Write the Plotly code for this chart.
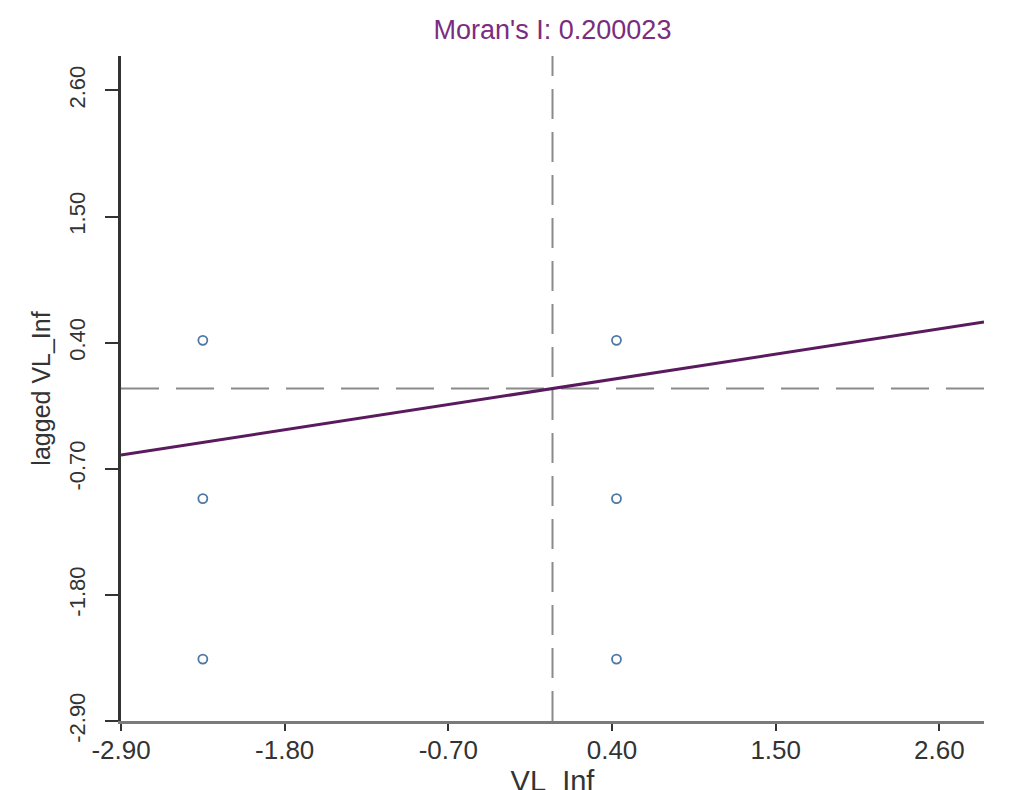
import plotly.graph_objects as go

# Data
x_values = [-2.35, -2.35, -2.35, 0.43, 0.43, 0.43]
lagged_values = [0.42, -0.96, -2.36, 0.42, -0.96, -2.36]
morans_i = 0.200023
x_mean = 0.0
y_mean = 0.0
axis_min, axis_max = -2.9, 2.9
tick_vals = [-2.90, -1.80, -0.70, 0.40, 1.50, 2.60]
tick_text = ["-2.90", "-1.80", "-0.70", "0.40", "1.50", "2.60"]

FONT = "Liberation Sans, Arial, sans-serif"

fig = go.Figure()

# mean reference lines
fig.add_trace(go.Scatter(x=[x_mean, x_mean], y=[axis_min, axis_max], mode="lines",
                         line=dict(color="#8a8a8a", width=2, dash="30px,13px"),
                         hoverinfo="skip", showlegend=False))
fig.add_trace(go.Scatter(x=[axis_min, axis_max], y=[y_mean, y_mean], mode="lines",
                         line=dict(color="#8a8a8a", width=2, dash="38px,17px"),
                         hoverinfo="skip", showlegend=False))

# points
fig.add_trace(go.Scatter(x=x_values, y=lagged_values, mode="markers",
                         marker=dict(symbol="circle-open", size=9, color="#4f78a6",
                                     line=dict(width=1.8, color="#4f78a6")),
                         showlegend=False))

# regression line (slope = Moran's I)
fig.add_trace(go.Scatter(x=[axis_min, axis_max], y=[morans_i * axis_min, morans_i * axis_max],
                         mode="lines", line=dict(color="#5a1a5e", width=3),
                         showlegend=False))

fig.update_layout(
    width=1020, height=790,
    margin=dict(l=113, r=44, t=48, b=77, autoexpand=False),
    paper_bgcolor="white", plot_bgcolor="white",
    font=dict(family=FONT, color="#333333", size=23),
    title=dict(text="Moran's I: 0.200023", x=0.5, xref="paper", xanchor="center",
               y=1 - 22 / 790, yref="container", yanchor="middle",
               font=dict(family=FONT, size=27, color="#7a2d80")),
    showlegend=False,
)

fig.update_xaxes(range=[axis_min, axis_max], tickvals=tick_vals, ticktext=tick_text,
                 showgrid=False, zeroline=False, showline=True, linecolor="#7a7a7a",
                 linewidth=3, ticks="outside", ticklen=7, tickwidth=2, tickcolor="#333333",
                 ticklabelstandoff=-3,
                 tickfont=dict(size=26, color="#333333"),
                 title=dict(text="VL_Inf", font=dict(size=29, color="#333333"), standoff=0))
fig.update_yaxes(range=[axis_min, axis_max], tickvals=tick_vals, ticktext=tick_text,
                 showgrid=False, zeroline=False, showline=True, linecolor="#333333",
                 linewidth=2.5, ticks="outside", ticklen=13, tickwidth=2, tickcolor="#333333",
                 tickangle=-90, ticklabelstandoff=11,
                 tickfont=dict(size=22, color="#333333"),
                 title=dict(text="lagged VL_Inf", font=dict(size=25, color="#333333"), standoff=8))

fig.write_html("out.html")
